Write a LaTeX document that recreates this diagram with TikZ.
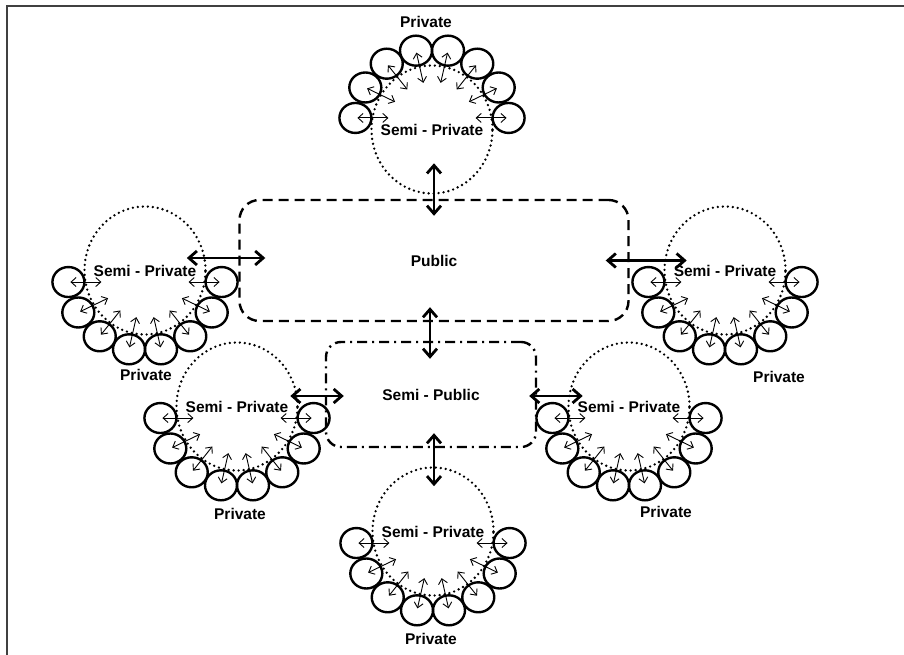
\documentclass[tikz,border=0pt]{standalone}
\usepackage{fontspec}
\setmainfont{Liberation Sans}
\usetikzlibrary{arrows.meta,calc,shapes.geometric}

% One zone of private rooms: a dotted semi-private ring, eight private
% cells on an arc around it, and a two-way arrow from each cell inward.
% #1 name, #2 #3 centre of the arc, #4 = 1 (cells above) or -1 (cells below)
\newcommand\makecluster[4]{%
  \pgfmathsetmacro\cShift{-(#4)*3.5}%
  \coordinate (c#1) at (#2,#3);
  \node[semiprv] (sp#1) at ($(c#1)+(0,\cShift)$) {};
  \node[lbl] (spl#1) at (sp#1) {Semi - Private};
  \foreach \i in {1,...,8}{%
    \pgfmathsetmacro\cAng{(#4)*(174-24*(\i-1))}%
    \pgfmathsetmacro\cDir{-(#4)*(\i-1)*180/7}%
    \node[prv] (p#1\i) at ($(c#1)+(\cAng:77)$) {};
    \draw[thinarr] ($(p#1\i)+(\cDir:2)$) -- ($(p#1\i)+(\cDir:33)$);
  }%
}

\begin{document}
\begin{tikzpicture}[x=1pt,y=1pt,
  lbl/.style={font=\bfseries\fontsize{15.5}{18}\selectfont, inner sep=0pt},
  semiprv/.style={draw, ellipse, line width=2.6pt, dash pattern=on 0pt off 5pt,
    line cap=round, minimum width=121pt, minimum height=128pt, inner sep=0pt},
  prv/.style={draw, ellipse, line width=2.4pt, minimum width=32pt,
    minimum height=30pt, inner sep=0pt},
  thinarr/.style={line width=0.9pt,
    {Straight Barb[length=5pt,width=9pt]}-{Straight Barb[length=5pt,width=9pt]}},
  boldarr/.style={line width=2.8pt,
    {Straight Barb[length=8pt,width=14pt]}-{Straight Barb[length=8pt,width=14pt]}},
  pubbox/.style={draw, rounded corners=20pt, line width=2.4pt,
    dash pattern=on 10pt off 6pt, minimum width=389pt, minimum height=121pt,
    font=\bfseries\fontsize{15.5}{18}\selectfont},
  spubbox/.style={draw, rounded corners=15pt, line width=2.4pt,
    dash pattern=on 10pt off 5pt on 2pt off 5pt, minimum width=210pt,
    minimum height=105pt, font=\bfseries\fontsize{15.5}{18}\selectfont},
  frame/.style={line width=2pt, draw=black!75}
]
\useasboundingbox (0,0) rectangle (904,655);

% frame edges
\coordinate (fTL) at (7,649);
\coordinate (fTR) at (904,649);
\coordinate (fBL) at (7,0);
\draw[frame] (fTR) -- (fTL) -- (fBL);

% shared spaces
\node[pubbox] (pub) at (434,394.5) {Public};
\node[spubbox] (spub) at (431,260.5) {Semi - Public};

% private zones
\makecluster{T}{432}{529}{1}
\makecluster{L}{145}{381}{-1}
\makecluster{R}{725}{381}{-1}
\makecluster{BL}{237}{245}{-1}
\makecluster{BR}{629}{245}{-1}
\makecluster{B}{433}{120}{-1}

\node[lbl] (prT)  at (426,633) {Private};
\node[lbl] (prL)  at (146,280) {Private};
\node[lbl] (prR)  at (779,278) {Private};
\node[lbl] (prBL) at (240,141) {Private};
\node[lbl] (prBR) at (666,143) {Private};
\node[lbl] (prB)  at (431,16)  {Private};

% links between zones
\draw[boldarr] ($(spT.south)+(2,31.5)$) -- ($(spT.south |- pub.north)+(2,-17)$);
\draw[boldarr] ($(pub.south)+(-4,15)$) -- ($(pub.south |- spub.north)+(-4,-18)$);
\draw[boldarr] ($(spub.south)+(3,15)$) -- ($(spub.south |- spB.north)+(3,-20)$);
\draw[boldarr] ($(spL.east)+(-20,12.5)$) -- ($(pub.west)+(27,2.5)$);
\draw[boldarr] ($(pub.east)+(-24,0)$) -- ($(spR.west)+(23.5,10)$);
\draw[boldarr] ($(spBL.east)+(-8.5,10.5)$) -- ($(spub.west)+(19,-1.5)$);
\draw[boldarr] ($(spub.east)+(-8,-1.5)$) -- ($(spBR.west)+(15.5,10.5)$);
\end{tikzpicture}
\end{document}
